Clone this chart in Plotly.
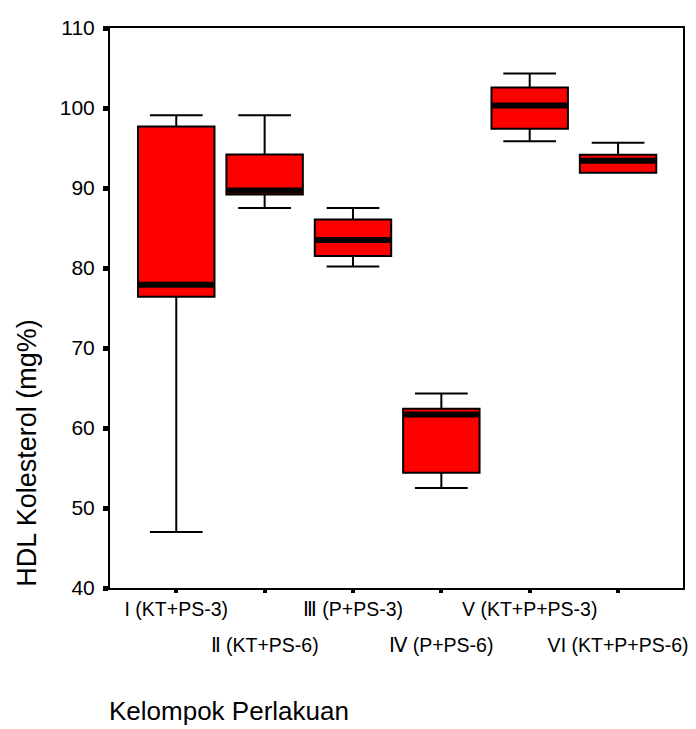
import plotly.graph_objects as go

groups = ["I (KT+PS-3)", "Ⅱ (KT+PS-6)", "Ⅲ (P+PS-3)", "Ⅳ (P+PS-6)", "V (KT+P+PS-3)", "VI (KT+P+PS-6)"]
positions = [0, 1, 2, 3, 4, 5]
q1 = [76.4, 89.2, 81.5, 54.4, 97.4, 91.9]
median = [77.9, 89.7, 83.5, 61.7, 100.3, 93.4]
q3 = [97.7, 94.2, 86.05, 62.4, 102.55, 94.15]
lowerfence = [47.0, 87.5, 80.2, 52.5, 95.85, 91.9]
upperfence = [99.1, 99.1, 87.5, 64.3, 104.3, 95.65]
y_ticks = [40, 50, 60, 70, 80, 90, 100, 110]

FONT = "Liberation Sans, Arial, sans-serif"

fig = go.Figure()
fig.add_trace(go.Box(
    x=positions, q1=q1, median=median, q3=q3,
    lowerfence=lowerfence, upperfence=upperfence,
    fillcolor="#FF0000", line=dict(color="black", width=2),
    width=0.865, whiskerwidth=0.69, boxpoints=False,
    showlegend=False, hoverinfo="skip",
))
# thick median bars (drawn on the overlaying axis, same range)
fig.add_trace(go.Box(
    x=positions, q1=median, median=median, q3=median,
    lowerfence=median, upperfence=median,
    fillcolor="black", line=dict(color="black", width=6),
    width=0.84, whiskerwidth=0, boxpoints=False,
    showlegend=False, hoverinfo="skip",
    xaxis="x2", yaxis="y",
))

row1 = [g if i % 2 == 0 else "" for i, g in enumerate(groups)]
row2 = [g if i % 2 == 1 else "" for i, g in enumerate(groups)]

xr = [-0.75, 5.735]
# the page body has an 8px margin, so the figure is sized/offset to compensate
fig.update_layout(
    width=688, height=721,
    margin=dict(l=102, r=8, t=13, b=141),
    paper_bgcolor="white", plot_bgcolor="white",
    boxmode="overlay",
    font=dict(family=FONT, size=20, color="black"),
    xaxis=dict(
        range=xr, tickmode="array", tickvals=positions, ticktext=row1,
        ticks="outside", ticklen=3, tickwidth=4, tickcolor="black",
        showline=True, linecolor="black", linewidth=2, mirror=True,
        showgrid=False, zeroline=False, tickfont=dict(size=19.5),
    ),
    xaxis2=dict(
        range=xr, overlaying="x", side="bottom", anchor="y",
        tickmode="array", tickvals=positions, ticktext=row2,
        ticks="", showline=False, showgrid=False, zeroline=False,
        ticklabelstandoff=43, tickfont=dict(size=19.5),
    ),
    yaxis=dict(
        range=[40, 110], tickmode="array", tickvals=y_ticks,
        ticks="outside", ticklen=5, tickwidth=5, tickcolor="black",
        showline=True, linecolor="black", linewidth=2, mirror=True,
        showgrid=False, zeroline=False, tickfont=dict(size=21),
        ticklabelstandoff=4,
    ),
    annotations=[
        dict(text="HDL Kolesterol (mg%)", xref="paper", yref="paper",
             x=-0.1453, y=0.241, xanchor="center", yanchor="middle",
             textangle=-90, showarrow=False, font=dict(size=27)),
        dict(text="Kelompok Perlakuan", xref="paper", yref="paper",
             x=-0.006, y=-0.19, xanchor="left", yanchor="top",
             showarrow=False, font=dict(size=26)),
    ],
)

fig.write_html("out.html")
